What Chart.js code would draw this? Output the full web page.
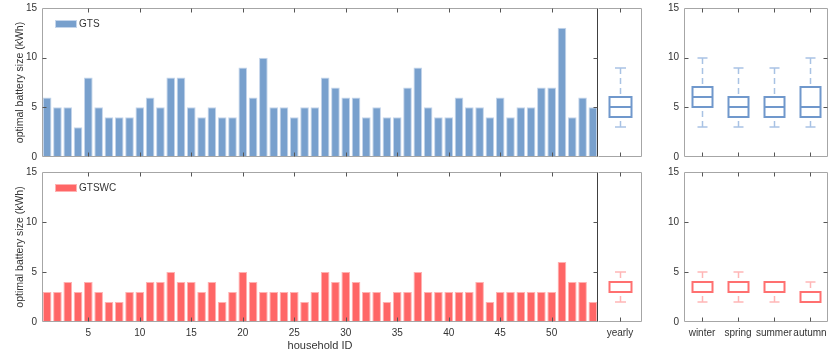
<!DOCTYPE html>
<html>
<head>
<meta charset="utf-8">
<script src="https://cdn.jsdelivr.net/npm/chart.js@4.4.0/dist/chart.umd.min.js"></script>
<style>
    body { margin: 0; background: #fff; width: 830px; height: 351px; position: relative; overflow: hidden; }
    canvas { position: absolute; }
</style>
</head>
<body>
<canvas id="barTop" width="600" height="165" style="left:0;top:0"></canvas>
<canvas id="yearTop" width="60" height="165" style="left:590px;top:0"></canvas>
<canvas id="seasTop" width="180" height="165" style="left:650px;top:0"></canvas>
<canvas id="barBot" width="600" height="186" style="left:0;top:165px"></canvas>
<canvas id="yearBot" width="60" height="186" style="left:590px;top:165px"></canvas>
<canvas id="seasBot" width="180" height="186" style="left:650px;top:165px"></canvas>
<script>
    // household IDs 1..54
    var households = [];
    for (var i = 1; i <= 54; i++) households.push(i);

    var gts = [6, 5, 5, 3, 8, 5, 4, 4, 4, 5, 6, 5, 8, 8, 5, 4, 5, 4, 4, 9, 6, 10, 5, 5, 4, 5, 5,
               8, 7, 6, 6, 4, 5, 4, 4, 7, 9, 5, 4, 4, 6, 5, 5, 4, 6, 4, 5, 5, 7, 7, 13, 4, 6, 5];
    var gtswc = [3, 3, 4, 3, 4, 3, 2, 2, 3, 3, 4, 4, 5, 4, 4, 3, 4, 2, 3, 5, 4, 3, 3, 3, 3, 2, 3,
                 5, 4, 5, 4, 3, 3, 2, 3, 3, 5, 3, 3, 3, 3, 3, 4, 2, 3, 3, 3, 3, 3, 3, 6, 4, 4, 2];

    var seasons = ['winter', 'spring', 'summer', 'autumn'];
    // box stats: [lower whisker, q1, median, q3, upper whisker]
    var gtsYearly = [[3, 4, 5, 6, 9]];
    var gtsSeasonal = [[3, 5, 6, 7, 10], [3, 4, 5, 6, 9], [3, 4, 5, 6, 9], [3, 4, 5, 7, 10]];
    var gtswcYearly = [[2, 3, 3, 4, 5]];
    var gtswcSeasonal = [[2, 3, 3, 4, 5], [2, 3, 3, 4, 5], [2, 3, 3, 4, 4], [2, 2, 2, 3, 4]];

    var xTickLabels = [5, 10, 15, 20, 25, 30, 35, 40, 45, 50];
    var yTickValues = [0, 5, 10, 15];

    var blue = 'rgb(120,160,205)', blueEdge = 'rgb(196,213,235)';
    var blueBox = 'rgb(112,152,204)', blueWhisker = 'rgb(168,194,228)';
    var red = 'rgb(255,102,102)', redEdge = 'rgb(255,178,178)';
    var redBox = 'rgb(255,112,112)', redWhisker = 'rgb(255,182,182)';

    var textColor = '#333333';
    Chart.defaults.font.family = '"Liberation Sans", Arial, sans-serif';
    Chart.defaults.font.size = 10;
    Chart.defaults.color = textColor;

    function seg(ctx, x1, y1, x2, y2) {
        ctx.beginPath();
        ctx.moveTo(x1, y1);
        ctx.lineTo(x2, y2);
        ctx.stroke();
    }

    // matlab-like box with inward ticks
    var axesPlugin = {
        id: 'mAxes',
        afterDraw: function (chart, args, o) {
            var a = chart.chartArea, ctx = chart.ctx;
            var L = a.left + 0.5, R = a.right - 0.5, T = a.top + 0.5, B = a.bottom - 0.5;
            ctx.save();
            ctx.lineWidth = 1;
            ctx.strokeStyle = '#a6a6a6';
            seg(ctx, L, T, R, T);
            seg(ctx, L, B, R, B);
            if (o.leftColor) {
                ctx.strokeStyle = o.leftColor;
                seg(ctx, L, T, L, B);
            }
            ctx.strokeStyle = o.rightColor || '#a6a6a6';
            seg(ctx, R, T, R, B);

            ctx.strokeStyle = '#555555';
            var tl = 4;
            (o.xTicks || []).forEach(function (v) {
                var px = Math.round(chart.scales.x.getPixelForValue(v)) + 0.5;
                seg(ctx, px, B, px, B - tl);
                seg(ctx, px, T, px, T + tl);
            });
            (o.yTicks || []).forEach(function (v) {
                var py = Math.round(chart.scales.y.getPixelForValue(v)) + 0.5;
                if (o.left) seg(ctx, L, py, L + tl, py);
                if (o.right) seg(ctx, R, py, R - tl, py);
            });
            ctx.restore();
        }
    };

    var legendPlugin = {
        id: 'mLegend',
        afterDraw: function (chart, args, o) {
            if (!o.text) return;
            var a = chart.chartArea, ctx = chart.ctx;
            ctx.save();
            ctx.fillStyle = o.color;
            ctx.fillRect(a.left + 13, a.top + 12, 22, 8);
            ctx.strokeStyle = o.edge;
            ctx.strokeRect(a.left + 13.5, a.top + 12.5, 21, 7);
            ctx.fillStyle = textColor;
            ctx.font = '10px "Liberation Sans", Arial, sans-serif';
            ctx.textBaseline = 'middle';
            ctx.fillText(o.text, a.left + 37, a.top + 16.5);
            ctx.restore();
        }
    };

    var boxPlugin = {
        id: 'boxes',
        afterDatasetsDraw: function (chart, args, o) {
            if (!o.stats) return;
            var ctx = chart.ctx, xs = chart.scales.x, ys = chart.scales.y;
            ctx.save();
            o.stats.forEach(function (s, i) {
                var cx = Math.round(xs.getPixelForValue(i)) + 0.5;
                var p = s.map(function (v) { return Math.round(ys.getPixelForValue(v)); });
                var hw = o.width / 2, hc = o.cap / 2;
                ctx.strokeStyle = o.whisker;
                ctx.lineWidth = 1.5;
                ctx.setLineDash([6, 4]);
                seg(ctx, cx, p[4], cx, p[3]);
                seg(ctx, cx, p[0], cx, p[1]);
                ctx.setLineDash([]);
                seg(ctx, cx - hc, p[4], cx + hc, p[4]);
                seg(ctx, cx - hc, p[0], cx + hc, p[0]);
                ctx.strokeStyle = o.color;
                ctx.lineWidth = 2;
                ctx.strokeRect(cx - hw, p[3], 2 * hw, p[1] - p[3]);
                seg(ctx, cx - hw, p[2], cx + hw, p[2]);
            });
            ctx.restore();
        }
    };

    function yScale(showLabels, width) {
        return {
            min: 0, max: 15,
            display: true,
            afterBuildTicks: function (s) { s.ticks = yTickValues.map(function (v) { return { value: v }; }); },
            grid: { display: false, drawTicks: false },
            border: { display: false },
            ticks: { display: showLabels, padding: 5 },
            title: {
                display: width > 40,
                text: 'optimal battery size (kWh)',
                padding: { top: 14, bottom: 0 },
                font: { size: 10.5 }
            },
            afterFit: function (s) {
                s.width = width;
                // let the end labels overhang the plot box like matlab does
                s.paddingTop = 0;
                s.paddingBottom = 0;
                if (s._margins) { s._margins.top = 0; s._margins.bottom = 0; }
            }
        };
    }

    function xScale(labelFn, showLabels, height, titleText) {
        return {
            type: 'category',
            offset: true,
            grid: { display: false, drawTicks: false },
            border: { display: false },
            ticks: { display: showLabels, autoSkip: false, maxRotation: 0, padding: 5, callback: labelFn },
            title: { display: !!titleText, text: titleText || '', padding: { top: 0, bottom: -2 }, font: { size: 11 } },
            afterFit: function (s) {
                s.height = height;
                s.paddingLeft = 0;
                s.paddingRight = 0;
            }
        };
    }

    function barChart(id, values, color, edge, name, bottom) {
        return new Chart(document.getElementById(id), {
            type: 'bar',
            data: {
                labels: households,
                datasets: [{
                    label: name,
                    data: values,
                    backgroundColor: color,
                    borderColor: edge,
                    borderWidth: 1,
                    barPercentage: 0.84,
                    categoryPercentage: 1
                }]
            },
            options: {
                responsive: false,
                animation: false,
                layout: { autoPadding: false, padding: { top: bottom ? 7 : 8, right: 2, left: 0, bottom: 0 } },
                plugins: {
                    legend: { display: false },
                    tooltip: { enabled: false },
                    mLegend: { text: name, color: color, edge: edge },
                    mAxes: {
                        xTicks: xTickLabels.map(function (v) { return v - 1; }),
                        yTicks: [5, 10], left: true, right: true,
                        leftColor: '#a6a6a6', rightColor: '#404040'
                    }
                },
                scales: {
                    x: xScale(function (v, i) {
                        return xTickLabels.indexOf(households[i]) >= 0 ? String(households[i]) : '';
                    }, bottom, bottom ? 29 : 8, bottom ? 'household ID' : null),
                    y: yScale(true, 42)
                }
            },
            plugins: [axesPlugin, legendPlugin]
        });
    }

    function boxChart(id, labels, stats, col, whisk, boxWidth, cap, bottom, leftAxis) {
        return new Chart(document.getElementById(id), {
            type: 'bar',
            data: { labels: labels, datasets: [{ data: [] }] },
            options: {
                responsive: false,
                animation: false,
                layout: { autoPadding: false, padding: { top: bottom ? 7 : 8, right: leftAxis ? 2 : 8, left: leftAxis ? 0 : 8, bottom: 0 } },
                plugins: {
                    legend: { display: false },
                    tooltip: { enabled: false },
                    boxes: { stats: stats, color: col, whisker: whisk, width: boxWidth, cap: cap },
                    mAxes: {
                        xTicks: labels.map(function (v, i) { return i; }),
                        yTicks: leftAxis ? [5, 10] : [],
                        left: leftAxis, right: leftAxis,
                        leftColor: leftAxis ? '#a6a6a6' : null
                    }
                },
                scales: {
                    x: xScale(function (v, i) { return labels[i]; }, bottom, bottom ? 29 : 8, null),
                    y: leftAxis ? yScale(true, 34) : { min: 0, max: 15, display: false }
                }
            },
            plugins: [axesPlugin, boxPlugin]
        });
    }

    barChart('barTop', gts, blue, blueEdge, 'GTS', false);
    barChart('barBot', gtswc, red, redEdge, 'GTSWC', true);
    boxChart('yearTop', ['yearly'], gtsYearly, blueBox, blueWhisker, 22, 11, false, false);
    boxChart('yearBot', ['yearly'], gtswcYearly, redBox, redWhisker, 22, 11, true, false);
    boxChart('seasTop', seasons, gtsSeasonal, blueBox, blueWhisker, 20, 10, false, true);
    boxChart('seasBot', seasons, gtswcSeasonal, redBox, redWhisker, 20, 10, true, true);
</script>
</body>
</html>
